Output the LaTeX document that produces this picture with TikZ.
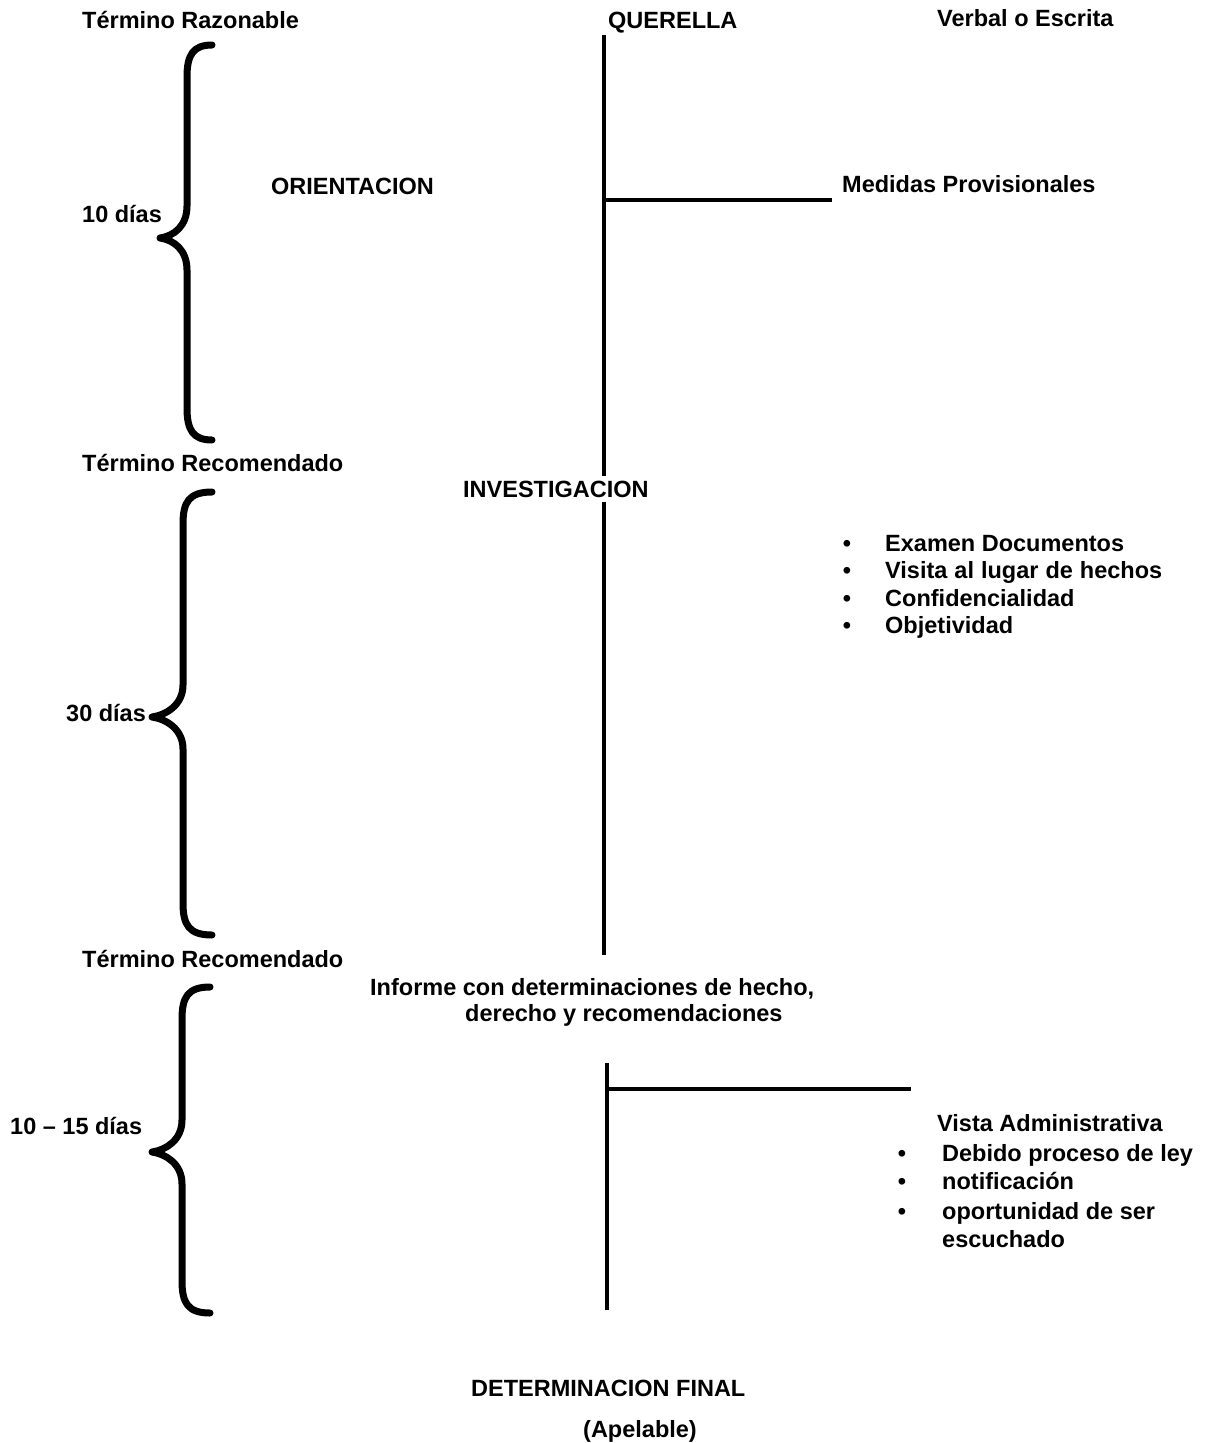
\documentclass[tikz,border=0pt]{standalone}
\usepackage{fontspec}
\setmainfont{Liberation Sans}
\newcommand\curlybrace[6]{% xe, xm, xt, ytop, ytip, ybot
  \draw[bracestyle] (#1,#4) .. controls (#2+6,#4) and (#2,#4+10) .. (#2,#4+32)
    -- (#2,#5-32) .. controls (#2,#5-12) and (#3+14,#5-2) .. (#3,#5)
    .. controls (#3+14,#5+2) and (#2,#5+12) .. (#2,#5+32)
    -- (#2,#6-32) .. controls (#2,#6-10) and (#2+6,#6) .. (#1,#6);}
\begin{document}
\begin{tikzpicture}[x=1pt,y=-1pt,
  lbl/.style={font=\fontsize{23.5}{28}\selectfont\bfseries, inner sep=0pt, anchor=base west},
  bul/.style={font=\fontsize{23.5}{28}\selectfont\bfseries, inner sep=0pt, anchor=base},
  mainline/.style={line width=4pt},
  bracestyle/.style={line width=7pt, line cap=round, line join=round}]
\useasboundingbox (0,0) rectangle (1205,1443);
\fill[white] (0,0) rectangle (1205,1443);

% main timeline
\coordinate (top1) at (604,35);
\coordinate (bot1) at (604,955);
\coordinate (br1) at (604,200);
\coordinate (br1e) at (832,200);
\draw[mainline] (top1) -- (bot1);
\draw[mainline] (br1) -- (br1e);

\coordinate (top2) at (607,1063);
\coordinate (bot2) at (607,1310);
\coordinate (br2) at (607,1089);
\coordinate (br2e) at (911,1089);
\draw[mainline] (top2) -- (bot2);
\draw[mainline] (br2) -- (br2e);

% braces
\curlybrace{212}{187}{160}{45}{238}{440}
\curlybrace{212}{183}{152}{492}{717}{935}
\curlybrace{210}{182}{152}{987}{1152}{1313}

% labels
\node[lbl] (tr) at (82,28) {Término Razonable};
\node[lbl] (q) at (608,28) {QUERELLA};
\node[lbl] (ve) at (937,26) {Verbal o Escrita};
\node[lbl] (or) at (271,194) {ORIENTACION};
\node[lbl] (mp) at (842,192) {Medidas Provisionales};
\node[lbl] (d10) at (82,222) {10 días};
\node[lbl] (trec1) at (82,471) {Término Recomendado};
\node[lbl, fill=white, inner ysep=5pt] (inv) at (463,497) {INVESTIGACION};

\node[bul] (b1) at (847,551) {•};
\node[bul] (b2) at (847,578) {•};
\node[bul] (b3) at (847,606) {•};
\node[bul] (b4) at (847,633) {•};
\node[lbl] (i1) at (885,551) {Examen Documentos};
\node[lbl] (i2) at (885,578) {\makebox[277pt][s]{Visita al lugar de hechos}};
\node[lbl] (i3) at (885,606) {Confidencialidad};
\node[lbl] (i4) at (885,633) {Objetividad};

\node[lbl] (d30) at (66,721) {30 días};
\node[lbl] (trec2) at (82,967) {Término Recomendado};
\node[lbl] (inf1) at (370,995) {Informe con determinaciones de hecho,};
\node[lbl] (inf2) at (465,1021) {derecho y recomendaciones};
\node[lbl] (d1015) at (10,1134) {10 – 15 días};

\node[lbl] (va) at (937,1131) {Vista Administrativa};
\node[bul] (c1) at (902,1161) {•};
\node[bul] (c2) at (902,1189) {•};
\node[bul] (c3) at (902,1219) {•};
\node[lbl] (j1) at (942,1161) {Debido proceso de ley};
\node[lbl] (j2) at (942,1189) {notificación};
\node[lbl] (j3) at (942,1219) {oportunidad de ser};
\node[lbl] (j4) at (942,1247) {escuchado};

\node[lbl] (df) at (471,1396) {DETERMINACION FINAL};
\node[lbl] (ap) at (583,1437) {(Apelable)};
\end{tikzpicture}
\end{document}
